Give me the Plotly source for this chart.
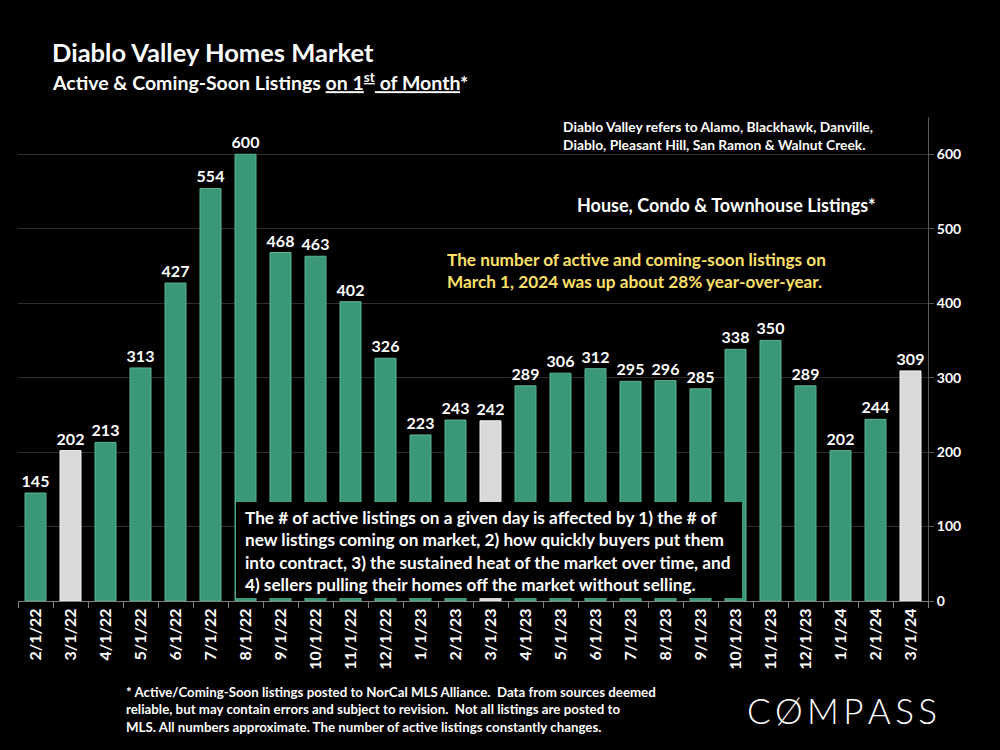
import plotly.graph_objects as go

months = ["2/1/22", "3/1/22", "4/1/22", "5/1/22", "6/1/22", "7/1/22", "8/1/22",
          "9/1/22", "10/1/22", "11/1/22", "12/1/22", "1/1/23", "2/1/23", "3/1/23",
          "4/1/23", "5/1/23", "6/1/23", "7/1/23", "8/1/23", "9/1/23", "10/1/23",
          "11/1/23", "12/1/23", "1/1/24", "2/1/24", "3/1/24"]
listings = [145, 202, 213, 313, 427, 554, 600, 468, 463, 402, 326, 223, 243, 242,
            289, 306, 312, 295, 296, 285, 338, 350, 289, 202, 244, 309]
highlight = ["3/1/22", "3/1/23", "3/1/24"]

GREEN = "#3b977a"
GREY = "#d9d9d9"
FONT = "Lato"

bar_colors = [GREY if m in highlight else GREEN for m in months]
line_colors = ["#f2f2f2" if m in highlight else "#5bb592" for m in months]

fig = go.Figure()
fig.add_trace(go.Bar(
    x=months, y=listings,
    marker=dict(color=bar_colors, line=dict(color=line_colors, width=1)),
    width=0.6,
    text=listings, textposition="outside", cliponaxis=False,
    constraintext="none",
    textfont=dict(family=FONT, size=16, color="white", weight="bold"),
))

# pixel helpers for the overlay layout (plot area 18..928 x, 117..601 y)
L, R, T, B = 18, 928, 117, 601
def px(x):
    return (x - L) / (R - L)
def py(y):
    return (B - y) / (B - T)

fig.add_shape(type="rect", xref="paper", yref="paper",
              x0=px(236), x1=px(742), y0=py(502), y1=py(598),
              fillcolor="black", line=dict(width=0), layer="above")

ann = []
ann.append(dict(x=px(50), y=py(52), xanchor="left", yanchor="middle",
                text="<b>Diablo Valley Homes Market</b>",
                font=dict(size=25.5, color="white")))
ann.append(dict(x=px(50), y=py(81), xanchor="left", yanchor="middle",
                text="<b>Active & Coming-Soon Listings <u>on 1<sup>st</sup> of Month</u>*</b>",
                font=dict(size=19.5, color="white")))
ann.append(dict(x=px(561), y=py(135), xanchor="left", yanchor="middle", align="left",
                text="<b>Diablo Valley refers to Alamo, Blackhawk, Danville,<br>"
                     "Diablo, Pleasant Hill, San Ramon & Walnut Creek.</b>",
                font=dict(size=13.8, color="white")))
ann.append(dict(x=px(878), y=py(205), xanchor="right", yanchor="middle",
                text="<b>House, Condo & Townhouse Listings*</b>",
                font=dict(size=18, color="white")))
ann.append(dict(x=px(445), y=py(270), xanchor="left", yanchor="middle", align="left",
                text="<b>The number of active and coming-soon listings on<br>"
                     "March 1, 2024 was up about 28% year-over-year.</b>",
                font=dict(size=17.2, color="#ffe169")))
ann.append(dict(x=px(243), y=py(551), xanchor="left", yanchor="middle", align="left",
                text="<b>The # of active listings on a given day is affected by 1) the # of<br>"
                     "new listings coming on market, 2) how quickly buyers put them<br>"
                     "into contract, 3) the sustained heat of the market over time, and<br>"
                     "4) sellers pulling their homes off the market without selling.</b>",
                font=dict(size=17.2, color="white")))
ann.append(dict(x=px(124), y=py(709), xanchor="left", yanchor="middle", align="left",
                text="<b>* Active/Coming-Soon listings posted to NorCal MLS Alliance.  Data from sources deemed<br>"
                     "reliable, but may contain errors and subject to revision.  Not all listings are posted to<br>"
                     "MLS. All numbers approximate. The number of active listings constantly changes.</b>",
                font=dict(size=13.3, color="white")))
ann.append(dict(x=px(842), y=py(710), xanchor="center", yanchor="middle",
                text="C\u2009Ø\u2009M\u2009P\u2009A\u2009S\u2009S",
                font=dict(family="Lato", size=35, color="white", weight=300)))
for a in ann:
    a.update(xref="paper", yref="paper", showarrow=False)
    a.setdefault("font", {}).setdefault("family", FONT)

fig.update_layout(
    width=1000, height=750,
    margin=dict(l=L, r=1000 - R, t=T, b=750 - B, pad=0),
    paper_bgcolor="black", plot_bgcolor="black",
    showlegend=False,
    font=dict(family=FONT, color="white"),
    annotations=ann,
)
fig.update_xaxes(
    type="category", tickangle=-90, tickson="boundaries",
    ticks="outside", ticklen=6, tickcolor="#7f7f7f",
    showline=True, linecolor="#7f7f7f", linewidth=1,
    showgrid=False,
    tickfont=dict(family=FONT, size=16, color="white", weight="bold"),
)
fig.update_yaxes(
    side="right", range=[0, 650], dtick=100,
    showgrid=True, gridcolor="#2e2e2e", gridwidth=1,
    showline=True, linecolor="#595959", linewidth=1,
    ticks="outside", ticklen=5, tickcolor="#595959",
    zeroline=False,
    tickfont=dict(family=FONT, size=14, color="white", weight="bold"),
)

fig.write_html("out.html", config={"displayModeBar": False},
               post_script="document.body.style.margin='0';")
